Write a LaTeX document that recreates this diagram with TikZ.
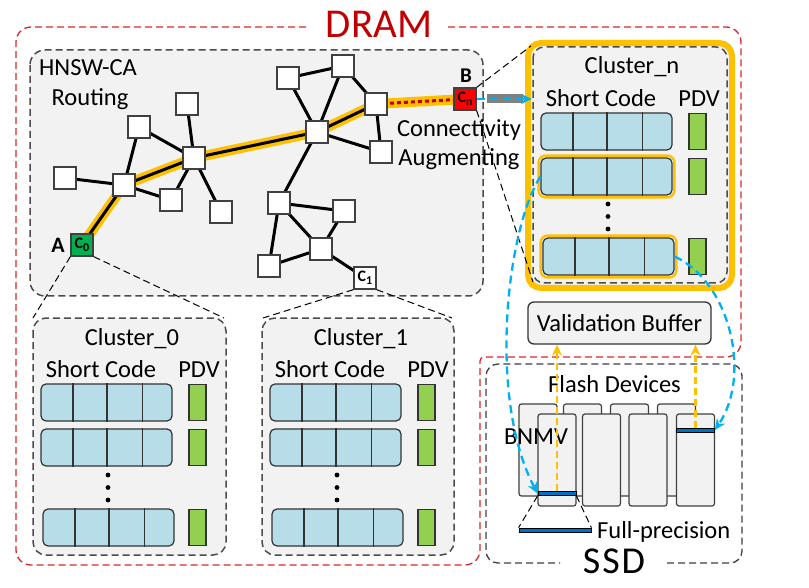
\documentclass[tikz,border=0pt]{standalone}
\usepackage{fontspec}
\setmainfont{Carlito}
\usetikzlibrary{arrows.meta,calc}
\definecolor{orgc}{HTML}{FFC000}
\definecolor{bluec}{HTML}{00B0F0}
\definecolor{barc}{HTML}{0070C0}
\definecolor{rowc}{HTML}{B7DDE8}
\definecolor{pdvc}{HTML}{92D050}
\definecolor{boxc}{HTML}{F2F2F2}
\definecolor{dramred}{HTML}{C00000}
\definecolor{dramline}{HTML}{D42A2A}
\definecolor{cnred}{HTML}{FF0000}
\definecolor{cogreen}{HTML}{00B050}
\definecolor{graybar}{HTML}{808080}
\pgfdeclarelayer{bgg}
\pgfdeclarelayer{bg}
\pgfsetlayers{bgg,bg,main}
\newcommand\clab[1]{\fontsize{16}{16}\selectfont\bfseries C\raisebox{-3pt}{\fontsize{12}{12}\selectfont #1}}
\newcommand\clusterin[4]{%
 \begin{scope}[shift={(#2,#3)}]
  \node[txt, anchor=base] (#1t) at (99,27) {#4};
  \node[txt, anchor=base] (#1s) at (68,59.5) {Short Code};
  \node[txt, anchor=base] (#1p) at (166,59.5) {PDV};
  \node[rowbox] (#1r1) at (73.5,84.5) {};
  \node[rowbox] (#1r2) at (73.5,129.5) {};
  \node[rowbox] (#1r3) at (75.5,209.5) {};
  \node[pdv] (#1p1) at (164.5,84.5) {};
  \node[pdv] (#1p2) at (164.5,129.5) {};
  \node[pdv] (#1p3) at (164.5,209.5) {};
  \fill (75,157) circle (2.4pt) (75,169.5) circle (2.4pt) (75,182) circle (2.4pt);
 \end{scope}
 \foreach \r in {1,2,3}{\foreach \f in {0.247,0.504,0.77}{%
   \draw[line width=1.2pt, black!80] ($(#1r\r.north west)!\f!(#1r\r.north east)$) -- ($(#1r\r.south west)!\f!(#1r\r.south east)$);}}%
}
\begin{document}
\begin{tikzpicture}[x=1pt,y=-1pt,
  txt/.style={font=\fontsize{24.5}{28}\selectfont, inner sep=0pt},
  gn/.style={draw=black!75, fill=white, line width=1.3pt, minimum size=22pt, inner sep=0pt},
  edge/.style={line width=3pt, draw=black},
  hlo/.style={line width=10pt, draw=orgc, line join=round},
  rowbox/.style={draw=black!80, fill=rowc, line width=1.2pt, rounded corners=5pt, minimum width=131pt, minimum height=37pt, inner sep=0pt},
  pdv/.style={draw=black!80, fill=pdvc, line width=1.2pt, minimum width=17pt, minimum height=36pt, inner sep=0pt},
  gbox/.style={draw=black!70, fill=boxc, line width=1.5pt, dash pattern=on 7pt off 4pt, rounded corners=13pt},
  zoomline/.style={draw=black, line width=1pt, dash pattern=on 7pt off 4pt},
  bluearr/.style={draw=bluec, line width=2.3pt, dash pattern=on 8pt off 5pt, -{Stealth[length=11pt,width=10pt]}},
  orgarr/.style={draw=orgc, line width=2.4pt, dash pattern=on 7pt off 4pt, -{Stealth[length=11pt,width=10pt]}},
  flash/.style={draw=black!75, fill=boxc, line width=1.2pt, rounded corners=2.5pt, minimum width=38pt, minimum height=92pt, inner sep=0pt},
  fbar/.style={draw=black, fill=barc, line width=0.8pt, minimum width=38pt, minimum height=4pt, inner sep=0pt},
  hlrow/.style={draw=orgc, line width=2.4pt, rounded corners=7pt},
]
\useasboundingbox (0,0) rectangle (809,588);

% ---------- DRAM region and HNSW box ----------
\begin{pgfonlayer}{bgg}
\fill[white] (0,0) rectangle (809,588);
\draw[draw=dramline, line width=1.3pt, dash pattern=on 7pt off 4pt]
  (448,27) [rounded corners=15pt] -- (741,27) -- (741,357) [rounded corners=4pt] -- (480,357) [rounded corners=15pt] -- (480,565) -- (16,565) -- (16,27) -- (307,27);
\draw[gbox, rounded corners=15pt] (30,50) rectangle (483,296);
\end{pgfonlayer}
\node[font=\fontsize{41}{41}\selectfont, text=dramred, anchor=base, inner sep=0pt] (tdram) at (379,38) {DRAM};

% ---------- graph nodes ----------
\node[gn] (n1) at (288,78) {};
\node[gn] (n2) at (343,66) {};
\node[gn] (n3) at (376,104) {};
\node[gn] (n4) at (317,132) {};
\node[gn] (n5) at (381,152) {};
\node[gn] (n6) at (187,104) {};
\node[gn] (n7) at (139,127) {};
\node[gn] (n8) at (194,158) {};
\node[gn] (n9) at (65,178) {};
\node[gn] (n10) at (124,185) {};
\node[gn] (n11) at (171,200) {};
\node[gn] (n12) at (221,212) {};
\node[gn] (n13) at (279,203) {};
\node[gn] (n14) at (344,211) {};
\node[gn] (n15) at (321,249) {};
\node[gn] (n16) at (269,266) {};
\node[gn] (c1) at (365,278) {\clab{1}};
\node[gn, fill=cogreen] (c0) at (82,245) {\clab{0}};
\node[gn, fill=cnred] (cn) at (465,99) {\clab{n}};
\node[font=\fontsize{22}{22}\selectfont\bfseries, anchor=base, inner sep=0pt] (lA) at (58,253) {A};
\node[font=\fontsize{21}{21}\selectfont\bfseries, anchor=base, inner sep=0pt] (lB) at (466,83) {B};

\begin{pgfonlayer}{bg}
\draw[hlo] (c0.center) -- (n10.center) -- (n8.center) -- (n4.center) -- (n3.center) -- (cn.center);
\foreach \a/\b in {n1/n2,n1/n4,n2/n4,n2/n3,n3/n5,n4/n5,n4/n13,n13/n14,n13/n15,n13/n16,n15/n14,n15/n16,n15/c1,
                   n6/n8,n7/n8,n7/n10,n9/n10,n10/n11,n8/n11,n8/n12}
  {\draw[edge] (\a.center) -- (\b.center);}
\draw[edge, line join=round] (c0.center) -- (n10.center) -- (n8.center) -- (n4.center) -- (n3.center);
\draw[draw=dramred, line width=3pt, dash pattern=on 4pt off 3pt] (n3.center) -- (cn.center);
\end{pgfonlayer}

\node[txt, anchor=base west] (thnsw) at (39,76) {HNSW-CA};
\node[txt, anchor=base] (trout) at (90,106) {Routing};
\node[txt, anchor=base] (tconn) at (459,137) {Connectivity};
\node[txt, anchor=base] (taug) at (459,166) {Augmenting};

% ---------- clusters ----------
\draw[gbox] (33,318) rectangle (226,555);
\draw[gbox] (262,318) rectangle (454,555);
\draw[draw=orgc, line width=6pt, fill=boxc, rounded corners=13pt] (528,43) rectangle (732,288);
\draw[gbox, fill=none, rounded corners=11pt] (533,47) rectangle (727,283);
\clusterin{a}{33}{318}{Cluster\_0}
\clusterin{b}{262}{318}{Cluster\_1}
\clusterin{n}{533}{47}{Cluster\_n}
\draw[hlrow] ($(nr2.south west)+(-1.8,1.8)$) rectangle ($(nr2.north east)+(1.8,-1.8)$);
\draw[hlrow] ($(nr3.south west)+(-1.8,1.8)$) rectangle ($(nr3.north east)+(1.8,-1.8)$);

% zoom lines
\draw[zoomline] (c0.south west) -- (33,318);
\draw[zoomline] (c0.south east) -- (224,318);
\draw[zoomline] (c1.south west) -- (263,318);
\draw[zoomline] (c1.south east) -- (452,318);
\draw[zoomline] (cn.north east) -- (531,46);
\draw[zoomline] (cn.south east) -- (533,282);

% Cn -> cluster_n
\coordinate (gs) at (487,99);
\coordinate (ge) at (523,99);
\coordinate (cnin) at (532,99);
\draw[draw=graybar, line width=9pt] (gs) -- (ge);
\draw[bluearr] (cn.east) -- (cnin);

% ---------- validation buffer ----------
\node[draw=black!80, fill=boxc, line width=1.3pt, rounded corners=6pt, minimum width=183pt, minimum height=42pt, inner sep=0pt, font=\fontsize{24.5}{28}\selectfont] (vb) at (619.5,323) {Validation Buffer};

% ---------- SSD ----------
\draw[draw=black!75, line width=1.3pt, dash pattern=on 7pt off 4pt]
  (667,563) [rounded corners=12pt] -- (742,563) -- (742,364) -- (486,364) -- (486,563) -- (560,563);
\node[font=\fontsize{38}{38}\selectfont, anchor=base, inner sep=0pt] (tssd) at (614,573) {S\kern2pt S\kern2pt D};
\node[txt, anchor=base] (tflash) at (614.5,392) {Flash Devices};

\node[flash] (bk1) at (538,450) {};
\node[flash] (bk2) at (582.5,450) {};
\node[flash] (bk3) at (629.5,450) {};
\node[flash] (bk4) at (676.5,450) {};
\node[flash] (fr1) at (557,460) {};
\node[flash] (fr2) at (601.5,460) {};
\node[flash] (fr3) at (648,460) {};
\node[flash] (fr4) at (695.5,460) {};
\node[fbar] (barA) at (557,493.5) {};
\node[fbar] (barD) at (695.5,430) {};
\node[fbar, minimum width=72pt] (fullbar) at (555,530) {};
\draw[zoomline] (barA.south west) -- (fullbar.north west);
\draw[zoomline] (barA.south east) -- (fullbar.north east);
\node[txt, anchor=base] (tbnmv) at (536,444) {BNMV};
\node[txt, anchor=base west] (tfull) at (597,538) {Full-precision};

% orange reads
\draw[orgarr] (barA.north) -- (barA.north |- vb.south);
\draw[orgarr] (barD.north) -- (barD.north |- vb.south);

% blue fetches
\draw[bluearr] (nr2.west) .. controls (506,231) and (488,400) .. (barA.west);
\draw[bluearr] (nr3.east) .. controls (730,282) and (752,375) .. (barD.east);
\end{tikzpicture}
\end{document}
